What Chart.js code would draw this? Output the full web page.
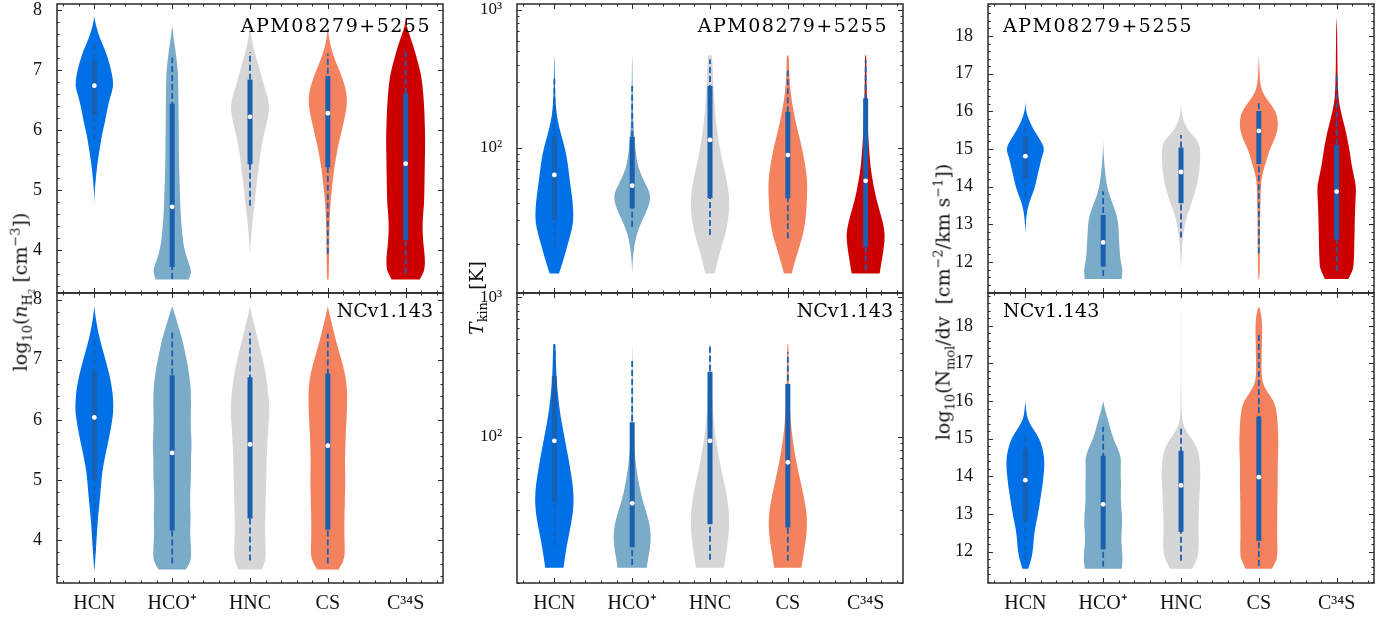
<!DOCTYPE html>
<html><head><meta charset="utf-8">
<script src="https://cdn.jsdelivr.net/npm/chart.js@4"></script>
<style>
body{margin:0;background:#fff;width:1395px;height:617px;overflow:hidden;position:relative;font-family:'DejaVu Serif',serif;color:#111}
#charts canvas{position:absolute}
.lbl{position:absolute;font-size:19px;line-height:1;white-space:nowrap;color:#000}
.ytitle{position:absolute;font-size:19px;line-height:1;white-space:nowrap;transform:translate(-50%,-50%) rotate(-90deg)}
.ytitle sub{font-size:0.68em;vertical-align:-0.35em;line-height:0}
.ytitle sup{font-size:0.68em;vertical-align:0.55em;line-height:0}
</style></head><body>
<div id="charts"></div>
<div class="ytitle" style="left:21px;top:292px">log<sub>10</sub>(<i>n</i><sub>H<sub>2</sub></sub> [cm<sup>−3</sup>])</div>
<div class="ytitle" style="left:476px;top:298px"><i>T</i><sub>kin</sub>&nbsp;&nbsp;[K]</div>
<div class="ytitle" style="left:943px;top:302px">log<sub>10</sub>(N<sub>mol</sub>/dv&nbsp;&nbsp;[cm<sup>−2</sup>/km s<sup>−1</sup>])</div>
<div class="lbl" style="right:964px;top:16px;letter-spacing:1.5px">APM08279+5255</div>
<div class="lbl" style="right:507px;top:16px;letter-spacing:1.5px">APM08279+5255</div>
<div class="lbl" style="left:1003px;top:16px;letter-spacing:1.5px">APM08279+5255</div>
<div class="lbl" style="right:962px;top:301px">NCv1.143</div>
<div class="lbl" style="right:502px;top:301px">NCv1.143</div>
<div class="lbl" style="left:1003px;top:301px">NCv1.143</div>
<script>
// ---------------- categories / styling ----------------
const CATEGORIES = ['HCN', 'HCO⁺', 'HNC', 'CS', 'C³⁴S'];
const COLORS = ['#0070e6', '#7aabc8', '#d6d6d6', '#f5825f', '#cc0000'];
const BOX_COLOR = '#1b5fb0';
const HALF = 0.25; // violin max half-width in category units

// ---------------- tick labels ----------------
const NH2_TICKS = [4, 5, 6, 7, 8];
const NH2_LABELS = ['4', '5', '6', '7', '8'];
const TKIN_TICKS = [100, 1000];
const TKIN_LABELS = ['10²', '10³'];
const NMOL_TICKS = [12, 13, 14, 15, 16, 17, 18];
const NMOL_LABELS = ['12', '13', '14', '15', '16', '17', '18'];

// ---------------- Panel A: APM08279+5255, log n(H2) ----------------
const A_LEVELS = [3.51,3.64,3.79,3.94,4.14,4.34,4.54,4.74,4.94,5.14,5.34,5.54,5.74,5.94,6.14,6.34,6.54,6.74,6.94,7.14,7.34,7.54,7.74,7.89];
const A_HCN  = [0,0,0,0,0,0,0,0,0.01,0.06,0.12,0.2,0.3,0.4,0.55,0.66,0.8,1.0,0.9,0.75,0.54,0.27,0.08,0];
const A_HCOP = [0.85,1.0,0.85,0.68,0.56,0.5,0.45,0.42,0.4,0.38,0.36,0.35,0.34,0.34,0.33,0.33,0.32,0.31,0.3,0.24,0.16,0.07,0,0];
const A_HNC  = [0,0,0,0,0.04,0.09,0.15,0.22,0.29,0.35,0.44,0.5,0.6,0.72,0.88,1.0,0.93,0.72,0.55,0.38,0.2,0.07,0,0];
const A_CS   = [0.04,0.05,0.06,0.07,0.07,0.08,0.1,0.13,0.18,0.25,0.32,0.42,0.53,0.68,0.82,0.95,1.0,0.88,0.66,0.4,0.19,0.05,0,0];
const A_C34S = [0.72,0.95,1.0,0.97,0.9,0.87,0.88,0.94,0.96,0.97,0.98,0.99,1.0,1.0,0.98,0.96,0.92,0.87,0.78,0.62,0.45,0.25,0.03,0];
const A_Q1  = [6.25, 3.72, 5.43, 5.38, 4.17];
const A_MED = [6.74, 4.72, 6.22, 6.28, 5.44];
const A_Q3  = [7.16, 6.44, 6.84, 6.90, 6.61];
const A_LO  = [5.83, 3.52, 4.74, 3.94, 3.61];
const A_HI  = [7.47, 7.21, 7.30, 7.27, 7.34];

// ---------------- Panel B: NCv1.143, log n(H2) ----------------
const B_LEVELS = A_LEVELS;
const B_HCN  = [0.01,0.04,0.07,0.1,0.14,0.18,0.24,0.3,0.35,0.41,0.52,0.65,0.78,0.89,0.98,0.97,0.9,0.78,0.62,0.45,0.28,0.15,0.05,0];
const B_HCOP = [0.7,0.95,0.98,0.95,0.92,0.95,0.93,0.92,0.95,0.97,0.96,1.0,0.98,0.95,0.96,0.97,0.95,0.88,0.78,0.65,0.52,0.33,0.15,0];
const B_HNC  = [0.6,0.78,0.82,0.8,0.78,0.78,0.8,0.82,0.83,0.84,0.86,0.88,0.92,0.95,1.0,0.97,0.9,0.82,0.7,0.55,0.4,0.25,0.1,0];
const B_CS   = [0.55,0.8,0.88,0.86,0.85,0.85,0.87,0.88,0.9,0.89,0.88,0.9,0.92,0.95,0.98,1.0,0.98,0.9,0.75,0.57,0.4,0.25,0.1,0];
const B_Q1  = [5.00, 4.16, 4.36, 4.17];
const B_MED = [6.04, 5.45, 5.59, 5.57];
const B_Q3  = [6.80, 6.74, 6.71, 6.77];
const B_LO  = [3.77, 3.61, 3.66, 3.61];
const B_HI  = [7.38, 7.48, 7.45, 7.43];

// ---------------- Panel C: APM08279+5255, T_kin [K] ----------------
const C_LEVELS = [12.2,14.9,18.6,23.3,29.0,36.3,45.4,56.8,70.8,88.5,111,138,173,216,270,337,422,471];
const C_HCN  = [0.24,0.44,0.63,0.83,0.98,0.97,0.9,0.8,0.72,0.62,0.45,0.26,0.12,0.06,0.03,0.02,0.01,0];
const C_HCOP = [0,0.02,0.09,0.22,0.48,0.82,0.97,0.62,0.32,0.2,0.13,0.08,0.05,0.04,0.03,0.02,0.01,0];
const C_HNC  = [0.25,0.38,0.57,0.78,0.92,0.99,0.98,0.87,0.72,0.57,0.45,0.35,0.28,0.22,0.18,0.15,0.12,0.1];
const C_CS   = [0.2,0.36,0.57,0.78,0.9,0.96,0.99,1.0,0.92,0.8,0.65,0.48,0.33,0.21,0.12,0.08,0.06,0.05];
const C_C34S = [0.72,0.82,0.93,1.0,0.88,0.68,0.5,0.37,0.26,0.2,0.15,0.11,0.09,0.07,0.05,0.04,0.03,0.03];
const C_Q1  = [29.9, 36.3, 43, 43, 19.1];
const C_MED = [63.4, 53, 114, 88.5, 57.5];
const C_Q3  = [120, 120, 281, 182, 229];
const C_LO  = [19.1, 26.7, 23.2, 22, 12.9];
const C_HI  = [319, 281, 438, 362, 434];

// ---------------- Panel D: NCv1.143, T_kin [K] ----------------
const D_LEVELS = [11.5,14.1,17.8,22.4,28.2,35.5,44.7,56.2,70.8,89.1,112,141,178,224,282,355,464];
const D_HCN  = [0.47,0.56,0.68,0.83,0.95,1.0,0.95,0.84,0.72,0.58,0.45,0.32,0.22,0.15,0.1,0.08,0.06];
const D_HCOP = [0.75,0.85,0.97,0.93,0.75,0.52,0.36,0.24,0.15,0.1,0.06,0.04,0.03,0.02,0.02,0.01,0];
const D_HNC  = [0.72,0.82,0.92,0.99,0.98,0.9,0.76,0.6,0.46,0.34,0.24,0.17,0.12,0.09,0.07,0.06,0.05];
const D_CS   = [0.7,0.8,0.92,0.99,0.97,0.85,0.7,0.54,0.4,0.28,0.19,0.13,0.09,0.06,0.05,0.04,0.03];
const D_Q1  = [33.8, 16.1, 23.6, 22.3];
const D_MED = [93.5, 33.3, 93.5, 65.5];
const D_Q3  = [271, 127, 293, 239];
const D_LO  = [16.5, 12, 13.1, 12.9];
const D_HI  = [462, 361, 445, 403];

// ---------------- Panel E: APM08279+5255, log N_mol/dv ----------------
const E_LEVELS = [11.55,11.8,12.0,12.25,12.5,12.75,13.0,13.25,13.5,13.75,14.0,14.25,14.5,14.75,15.0,15.25,15.5,15.75,16.0,16.25,16.5,16.75,17.0,17.25,17.5,17.75,18.0,18.25,18.5];
const E_HCN  = [0,0,0,0,0,0,0.02,0.06,0.15,0.32,0.5,0.6,0.72,0.82,1.0,0.76,0.44,0.2,0.03,0,0,0,0,0,0,0,0,0,0];
const E_HCOP = [0.95,1.0,0.9,0.85,0.83,0.8,0.78,0.7,0.52,0.34,0.2,0.13,0.08,0.04,0.01,0,0,0,0,0,0,0,0,0,0,0,0,0,0];
const E_HNC  = [0,0,0.02,0.04,0.07,0.12,0.2,0.32,0.5,0.66,0.8,0.9,0.96,0.98,1.0,0.84,0.35,0.12,0.02,0,0,0,0,0,0,0,0,0,0];
const E_CS   = [0.02,0.05,0.05,0.05,0.06,0.06,0.06,0.07,0.08,0.09,0.1,0.15,0.27,0.42,0.57,0.8,0.97,0.98,0.88,0.52,0.18,0.07,0.04,0.02,0,0,0,0,0];
const E_C34S = [0.6,0.85,0.88,0.9,0.91,0.92,0.93,0.94,0.96,0.98,1.0,0.9,0.8,0.72,0.65,0.56,0.46,0.33,0.22,0.12,0.08,0.06,0.05,0.04,0.04,0.03,0.03,0.02,0];
const E_Q1  = [14.22, 11.88, 13.56, 14.60, 12.60];
const E_MED = [14.81, 12.52, 14.39, 15.48, 13.87];
const E_Q3  = [15.33, 13.25, 15.04, 16.01, 15.11];
const E_LO  = [13.73, 11.63, 12.65, 12.23, 11.77];
const E_HI  = [15.64, 13.87, 15.37, 16.28, 17.01];

// ---------------- Panel F: NCv1.143, log N_mol/dv ----------------
const F_LEVELS = E_LEVELS;
const F_HCN  = [0.15,0.3,0.38,0.42,0.46,0.55,0.65,0.73,0.8,0.88,0.93,0.98,0.97,0.88,0.72,0.42,0.12,0.04,0,0,0,0,0,0,0,0,0,0,0];
const F_HCOP = [0.95,1.0,0.98,0.93,0.94,0.98,0.96,0.92,0.9,0.92,0.9,0.9,0.92,0.75,0.52,0.38,0.25,0.1,0,0,0,0,0,0,0,0,0,0,0];
const F_HNC  = [0.57,0.82,0.9,0.92,0.9,0.9,0.91,0.93,0.95,0.97,1.0,0.98,0.95,0.85,0.55,0.2,0.06,0.03,0.02,0.02,0.01,0.01,0.01,0.01,0.01,0.01,0.01,0.01,0];
const F_CS   = [0.68,0.93,0.96,0.95,0.94,0.95,0.95,0.95,0.96,0.97,0.97,0.97,0.98,1.0,1.0,0.98,0.96,0.9,0.78,0.42,0.18,0.14,0.14,0.15,0.16,0.17,0.17,0.14,0.04];
const F_Q1  = [12.80, 12.06, 12.53, 12.29];
const F_MED = [13.90, 13.26, 13.76, 13.98];
const F_Q3  = [14.70, 14.55, 14.68, 15.59];
const F_LO  = [11.78, 11.60, 11.76, 11.62];
const F_HI  = [15.15, 15.32, 15.32, 17.76];

// ---------------- panel layout ----------------
const PANELS = [
  {id:'A', left:57,  right:443,  top:4,   bottom:293, log:false, ymin:3.285, ymax:8.10, yticks:NH2_TICKS, ylabels:NH2_LABELS, xlabels:false,
   levels:A_LEVELS, widths:[A_HCN,A_HCOP,A_HNC,A_CS,A_C34S], q1:A_Q1, med:A_MED, q3:A_Q3, lo:A_LO, hi:A_HI},
  {id:'B', left:57,  right:443,  top:293, bottom:583, log:false, ymin:3.285, ymax:8.11, yticks:NH2_TICKS, ylabels:NH2_LABELS, xlabels:true,
   levels:B_LEVELS, widths:[B_HCN,B_HCOP,B_HNC,B_CS], q1:B_Q1, med:B_MED, q3:B_Q3, lo:B_LO, hi:B_HI},
  {id:'C', left:517, right:903,  top:4,   bottom:293, log:true,  ymin:8.81, ymax:1106, yticks:TKIN_TICKS, ylabels:TKIN_LABELS, xlabels:false,
   levels:C_LEVELS, widths:[C_HCN,C_HCOP,C_HNC,C_CS,C_C34S], q1:C_Q1, med:C_MED, q3:C_Q3, lo:C_LO, hi:C_HI},
  {id:'D', left:517, right:903,  top:293, bottom:583, log:true,  ymin:8.93, ymax:1074, yticks:TKIN_TICKS, ylabels:TKIN_LABELS, xlabels:true,
   levels:D_LEVELS, widths:[D_HCN,D_HCOP,D_HNC,D_CS], q1:D_Q1, med:D_MED, q3:D_Q3, lo:D_LO, hi:D_HI},
  {id:'E', left:988, right:1374, top:4,   bottom:293, log:false, ymin:11.177, ymax:18.85, yticks:NMOL_TICKS, ylabels:NMOL_LABELS, xlabels:false,
   levels:E_LEVELS, widths:[E_HCN,E_HCOP,E_HNC,E_CS,E_C34S], q1:E_Q1, med:E_MED, q3:E_Q3, lo:E_LO, hi:E_HI},
  {id:'F', left:988, right:1374, top:293, bottom:583, log:false, ymin:11.17, ymax:18.87, yticks:NMOL_TICKS, ylabels:NMOL_LABELS, xlabels:true,
   levels:F_LEVELS, widths:[F_HCN,F_HCOP,F_HNC,F_CS], q1:F_Q1, med:F_MED, q3:F_Q3, lo:F_LO, hi:F_HI}
];

const YAXIS_W = 55, PAD = 4, XAXIS_H = 36;

function smoothPoly(ctx, pts){
  ctx.moveTo(pts[0][0], pts[0][1]);
  for (let i = 1; i < pts.length - 1; i++) {
    const mx = (pts[i][0] + pts[i+1][0]) / 2, my = (pts[i][1] + pts[i+1][1]) / 2;
    ctx.quadraticCurveTo(pts[i][0], pts[i][1], mx, my);
  }
  ctx.lineTo(pts[pts.length-1][0], pts[pts.length-1][1]);
}

function violinPlugin(p){
  return {
    id: 'violins' + p.id,
    beforeDatasetsDraw(chart){
      const {ctx, chartArea:a, scales:{x, y}} = chart;
      ctx.save();
      ctx.beginPath(); ctx.rect(a.left, a.top, a.right - a.left, a.bottom - a.top); ctx.clip();
      p.widths.forEach((w, i) => {
        let first = w.findIndex(v => v > 0);
        let last = w.length - 1 - w.slice().reverse().findIndex(v => v > 0);
        first = Math.max(0, first - 1); last = Math.min(w.length - 1, last + 1);
        const left = [], right = [];
        for (let k = first; k <= last; k++) {
          left.push([x.getPixelForValue(i - w[k] * HALF), y.getPixelForValue(p.levels[k])]);
        }
        for (let k = last; k >= first; k--) {
          right.push([x.getPixelForValue(i + w[k] * HALF), y.getPixelForValue(p.levels[k])]);
        }
        ctx.beginPath();
        smoothPoly(ctx, left.concat(right));
        ctx.closePath();
        ctx.fillStyle = COLORS[i];
        ctx.fill();
      });
      // whiskers (dashed) and interquartile boxes (thick)
      p.q1.forEach((q, i) => {
        const px = x.getPixelForValue(i);
        ctx.strokeStyle = BOX_COLOR;
        ctx.lineWidth = 1.8; ctx.setLineDash([6, 3]);
        ctx.beginPath(); ctx.moveTo(px, y.getPixelForValue(p.lo[i])); ctx.lineTo(px, y.getPixelForValue(p.hi[i])); ctx.stroke();
        ctx.setLineDash([]); ctx.lineWidth = 5; ctx.lineCap = 'butt';
        ctx.beginPath(); ctx.moveTo(px, y.getPixelForValue(p.q1[i])); ctx.lineTo(px, y.getPixelForValue(p.q3[i])); ctx.stroke();
      });
      ctx.restore();
    }
  };
}

function framePlugin(p){
  return {
    id: 'frame' + p.id,
    afterDraw(chart){
      const {ctx, chartArea:a, scales:{x, y}} = chart;
      ctx.save();
      ctx.strokeStyle = '#2a2a2a';
      ctx.lineWidth = 1.5;
      ctx.strokeRect(a.left, a.top, a.right - a.left, a.bottom - a.top);
      ctx.lineWidth = 1;
      const seg = (x1, y1, x2, y2) => { ctx.beginPath(); ctx.moveTo(x1, y1); ctx.lineTo(x2, y2); ctx.stroke(); };
      const minor = [];
      if (p.log) {
        for (let d = 1; d <= 1000; d *= 10) for (let k = 2; k <= 9; k++) { const v = k * d; if (v > p.ymin && v < p.ymax) minor.push(v); }
      } else {
        for (let n = Math.ceil(p.ymin * 5); n <= Math.floor(p.ymax * 5); n++) if (n % 5 !== 0) minor.push(n / 5);
      }
      p.yticks.forEach(v => { const py = Math.round(y.getPixelForValue(v)) + 0.5; seg(a.left, py, a.left + 5, py); seg(a.right, py, a.right - 5, py); });
      minor.forEach(v => { const py = Math.round(y.getPixelForValue(v)) + 0.5; seg(a.left, py, a.left + 2.5, py); seg(a.right, py, a.right - 2.5, py); });
      for (let n = -2; n <= 22; n++) {
        const px = Math.round(x.getPixelForValue(n / 5)) + 0.5;
        const len = (n % 5 === 0) ? 5 : 2.5;
        seg(px, a.top, px, a.top + len); seg(px, a.bottom, px, a.bottom - len);
      }
      ctx.restore();
    }
  };
}

function buildPanel(p){
  const W = YAXIS_W + (p.right - p.left) + PAD;
  const H = PAD + (p.bottom - p.top) + (p.xlabels ? XAXIS_H : PAD);
  const cv = document.createElement('canvas');
  cv.width = W; cv.height = H;
  cv.style.left = (p.left - YAXIS_W) + 'px';
  cv.style.top = (p.top - PAD) + 'px';
  cv.style.width = W + 'px'; cv.style.height = H + 'px';
  document.getElementById('charts').appendChild(cv);
  new Chart(cv, {
    type: 'scatter',
    data: {
      datasets: [{
        data: p.med.map((m, i) => ({x: i, y: m})),
        pointRadius: 2.4, pointHoverRadius: 2.4,
        pointBackgroundColor: '#ffffff', pointBorderWidth: 0, borderWidth: 0
      }]
    },
    options: {
      responsive: false, animation: false, devicePixelRatio: 1,
      layout: {padding: {left: 0, right: PAD, top: PAD, bottom: p.xlabels ? 0 : PAD}},
      plugins: {legend: {display: false}, tooltip: {enabled: false}},
      scales: {
        x: {
          type: 'linear', min: -0.48, max: 4.48, display: p.xlabels,
          grid: {display: false}, border: {display: false},
          afterBuildTicks: s => { s.ticks = CATEGORIES.map((c, i) => ({value: i})); },
          afterFit: s => {
            s.height = p.xlabels ? XAXIS_H : 0;
            s.paddingLeft = 0; s.paddingRight = 0; s.paddingTop = 0; s.paddingBottom = 0;
          },
          ticks: {callback: v => CATEGORIES[Math.round(v)], autoSkip: false, maxRotation: 0, padding: 1,
                  color: '#111', font: {family: 'Liberation Serif', size: 20}}
        },
        y: {
          type: p.log ? 'logarithmic' : 'linear', min: p.ymin, max: p.ymax,
          grid: {display: false}, border: {display: false},
          afterBuildTicks: s => { s.ticks = p.yticks.map(v => ({value: v})); },
          afterFit: s => {
            s.width = YAXIS_W;
            s.paddingLeft = 0; s.paddingRight = 0; s.paddingTop = 0; s.paddingBottom = 0;
          },
          ticks: {callback: (v, i) => p.ylabels[i], autoSkip: false, padding: 7,
                  color: '#111', font: {family: 'Liberation Serif', size: p.log ? 17 : 18}}
        }
      }
    },
    plugins: [violinPlugin(p), framePlugin(p)]
  });
}

PANELS.forEach(buildPanel);
</script>
</body></html>
